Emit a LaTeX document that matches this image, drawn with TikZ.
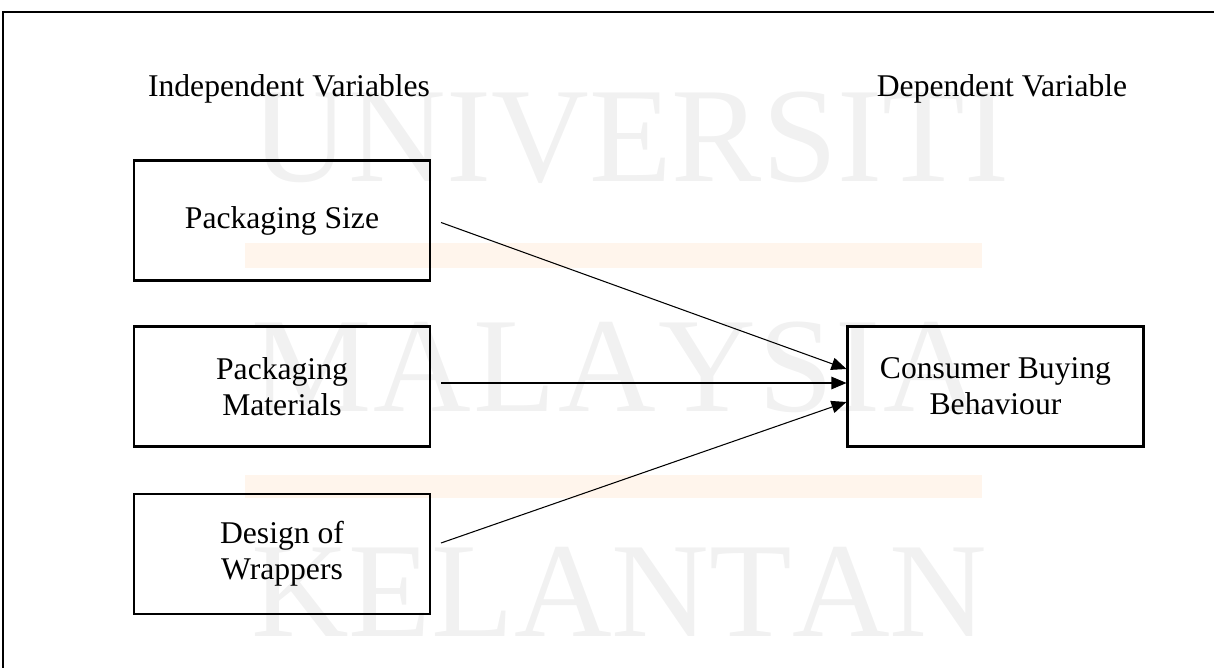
\documentclass[tikz,border=0pt]{standalone}
\usepackage{fontspec}
\setmainfont{Liberation Serif}
\usetikzlibrary{arrows.meta}

\definecolor{wmgray}{RGB}{241,241,241}
\definecolor{wmorange}{RGB}{255,245,236}

\begin{document}
\begin{tikzpicture}[x=0.02cm, y=-0.02cm,
    varbox/.style={draw, line width=1.2pt, minimum width=5.92cm, minimum height=2.4cm,
        inner sep=0pt, align=center, font=\fontsize{18}{20.5}\selectfont},
    heading/.style={anchor=base, inner sep=0pt, font=\fontsize{18}{20.5}\selectfont},
    link/.style={line width=0.6pt, -{Triangle[length=0.3cm, width=0.25cm]}},
    stamp/.style={anchor=base, inner sep=0pt, text=wmgray, font=\fontsize{77}{80}\selectfont}]

    \useasboundingbox (0,0) rectangle (1214,668);

    % faint watermark behind everything
    \fill[wmorange] (245,243) rectangle (982,268);
    \fill[wmorange] (245,475) rectangle (982,498);
    \node[stamp] (uni) at (616,182) {\makebox[14.6cm][s]{U\hfill N\hfill I\hfill V\hfill E\hfill R\hfill S\hfill I\hfill T\hfill I}};
    \node[stamp] (mal) at (616,412) {\makebox[14.6cm][s]{M\hfill A\hfill L\hfill A\hfill Y\hfill S\hfill I\hfill A}};
    \node[stamp] (kel) at (616,637) {\makebox[14.6cm][s]{K\hfill E\hfill L\hfill A\hfill N\hfill T\hfill A\hfill N}};

    % frame
    \draw[line width=1.1pt] (3,668) -- (3,12) -- (1214,12);

    \node[heading] (indep) at (289,97) {Independent Variables};
    \node[heading] (dep) at (1002,97) {Dependent Variable};

    \node[varbox] (size) at (282,220.5) {Packaging Size};
    \node[varbox] (mat) at (282,386.5) {Packaging\\Materials};
    \node[varbox] (wrap) at (282,554) {Design of\\Wrappers};
    \node[varbox] (behav) at (995.5,386.5) {Consumer Buying\\Behaviour};

    \draw[link] ([shift={(10,2)}]size.east) -- ([shift={(0,-17.5)}]behav.west);
    \draw[link] ([shift={(10,-3.5)}]mat.east) -- ([shift={(0,-3.5)}]behav.west);
    \draw[link] ([shift={(10,-11)}]wrap.east) -- ([shift={(0,15.5)}]behav.west);

\end{tikzpicture}
\end{document}
